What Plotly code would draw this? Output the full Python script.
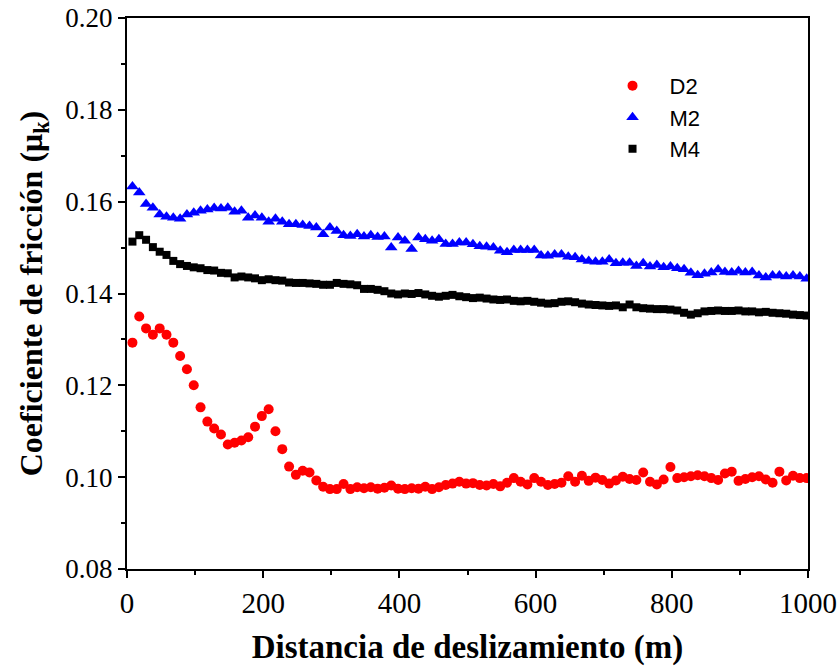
import plotly.graph_objects as go

# Sliding distance (m), one sample every 10 m
distance = [8 + 10 * i for i in range(100)]

d2 = [0.1293, 0.1350, 0.1324, 0.1310, 0.1324, 0.1310, 0.1293, 0.1264, 0.1235, 0.1200,
      0.1152, 0.1121, 0.1106, 0.1093, 0.1071, 0.1075, 0.1080, 0.1087, 0.1110, 0.1133,
      0.1148, 0.1100, 0.1061, 0.1023, 0.1005, 0.1014, 0.1010, 0.0993, 0.0979, 0.0974,
      0.0974, 0.0985, 0.0974, 0.0978, 0.0976, 0.0978, 0.0975, 0.0977, 0.0982, 0.0975,
      0.0974, 0.0976, 0.0975, 0.0979, 0.0974, 0.0978, 0.0983, 0.0986, 0.0990, 0.0986,
      0.0987, 0.0983, 0.0982, 0.0985, 0.0980, 0.0988, 0.0998, 0.0990, 0.0984, 0.0998,
      0.0990, 0.0983, 0.0985, 0.0988, 0.1002, 0.0990, 0.1003, 0.0992, 0.0999, 0.0994,
      0.0986, 0.0993, 0.1001, 0.0996, 0.0994, 0.1010, 0.0990, 0.0984, 0.0995, 0.1022,
      0.0998, 0.1000, 0.1002, 0.1004, 0.1002, 0.0998, 0.0994, 0.1008, 0.1012, 0.0992,
      0.0996, 0.1000, 0.1002, 0.0995, 0.0988, 0.1012, 0.0993, 0.1003, 0.0998, 0.0998]

m2 = [0.1633, 0.1620, 0.1595, 0.1587, 0.1572, 0.1567, 0.1565, 0.1563, 0.1572, 0.1576,
      0.1580, 0.1583, 0.1586, 0.1585, 0.1587, 0.1578, 0.1580, 0.1565, 0.1570, 0.1565,
      0.1556, 0.1563, 0.1556, 0.1551, 0.1551, 0.1549, 0.1547, 0.1544, 0.1529, 0.1544,
      0.1536, 0.1527, 0.1525, 0.1529, 0.1524, 0.1527, 0.1523, 0.1524, 0.1500, 0.1522,
      0.1515, 0.1497, 0.1522, 0.1518, 0.1515, 0.1518, 0.1508, 0.1508, 0.1511, 0.1511,
      0.1507, 0.1503, 0.1502, 0.1500, 0.1493, 0.1490, 0.1495, 0.1495, 0.1495, 0.1495,
      0.1483, 0.1482, 0.1485, 0.1485, 0.1480, 0.1479, 0.1474, 0.1471, 0.1469, 0.1469,
      0.1474, 0.1466, 0.1467, 0.1467, 0.1460, 0.1466, 0.1459, 0.1462, 0.1457, 0.1459,
      0.1455, 0.1453, 0.1445, 0.1440, 0.1443, 0.1446, 0.1452, 0.1447, 0.1446, 0.1449,
      0.1446, 0.1447, 0.1439, 0.1435, 0.1439, 0.1439, 0.1437, 0.1439, 0.1437, 0.1432]

m4 = [0.1513, 0.1527, 0.1517, 0.1501, 0.1491, 0.1484, 0.1471, 0.1464, 0.1460, 0.1457,
      0.1455, 0.1451, 0.1450, 0.1445, 0.1444, 0.1435, 0.1437, 0.1435, 0.1433, 0.1429,
      0.1431, 0.1429, 0.1428, 0.1424, 0.1423, 0.1423, 0.1422, 0.1421, 0.1419, 0.1419,
      0.1423, 0.1421, 0.1420, 0.1418, 0.1410, 0.1410, 0.1408, 0.1405, 0.1400, 0.1398,
      0.1400, 0.1399, 0.1401, 0.1398, 0.1395, 0.1393, 0.1395, 0.1397, 0.1394, 0.1392,
      0.1390, 0.1391, 0.1389, 0.1387, 0.1386, 0.1387, 0.1384, 0.1383, 0.1384, 0.1382,
      0.1380, 0.1378, 0.1379, 0.1382, 0.1383, 0.1381, 0.1378, 0.1376, 0.1375, 0.1374,
      0.1373, 0.1374, 0.1370, 0.1376, 0.1370, 0.1368, 0.1367, 0.1366, 0.1366, 0.1365,
      0.1363, 0.1358, 0.1354, 0.1357, 0.1361, 0.1362, 0.1363, 0.1362, 0.1362, 0.1363,
      0.1361, 0.1361, 0.1359, 0.1360, 0.1358, 0.1357, 0.1356, 0.1354, 0.1353, 0.1352]

x_ticks = [0, 200, 400, 600, 800, 1000]
y_ticks = [0.08, 0.10, 0.12, 0.14, 0.16, 0.18, 0.20]

fig = go.Figure()
fig.add_trace(go.Scatter(x=distance, y=d2, mode="markers", name="D2",
                         marker=dict(symbol="circle", size=10, color="#ff0000")))
fig.add_trace(go.Scatter(x=distance, y=m2, mode="markers", name="M2",
                         marker=dict(symbol="triangle-up", size=11, color="#0000ff")))
fig.add_trace(go.Scatter(x=distance, y=m4, mode="markers", name="M4",
                         marker=dict(symbol="square", size=8, color="#000000")))

axis_common = dict(showline=True, linecolor="black", linewidth=2, mirror=True,
                   ticks="outside", ticklen=7, tickwidth=2, tickcolor="black",
                   showgrid=False, zeroline=False, automargin=False)

fig.update_xaxes(range=[0, 1000], tickvals=x_ticks, ticktext=[str(v) for v in x_ticks],
                 tickfont=dict(family="Liberation Serif", size=29, color="black"),
                 minor=dict(ticks="outside", ticklen=4, tickwidth=2, tickcolor="black", dtick=100),
                 title=dict(text="Distancia de deslizamiento (m)", standoff=17,
                            font=dict(family="Liberation Serif", size=33, color="black", weight="bold")),
                 **axis_common)
fig.update_yaxes(range=[0.08, 0.20], tickvals=y_ticks, ticktext=[f"{v:.2f}" for v in y_ticks],
                 tickfont=dict(family="Liberation Serif", size=27, color="black"),
                 minor=dict(ticks="outside", ticklen=4, tickwidth=2, tickcolor="black", dtick=0.01),
                 title=dict(text="Coeficiente de fricción (μ<sub>k</sub>)", standoff=13,
                            font=dict(family="Liberation Serif", size=32, color="black", weight="bold")),
                 **axis_common)

fig.update_layout(
    width=839, height=669,
    margin=dict(l=127, r=31, t=18, b=100),
    paper_bgcolor="white", plot_bgcolor="white",
    showlegend=True,
    legend=dict(x=0.688, y=0.915, xanchor="left", yanchor="top",
                font=dict(family="Liberation Sans", size=22, color="black"),
                itemwidth=64, bgcolor="rgba(0,0,0,0)"),
)

fig.write_html("out.html")
